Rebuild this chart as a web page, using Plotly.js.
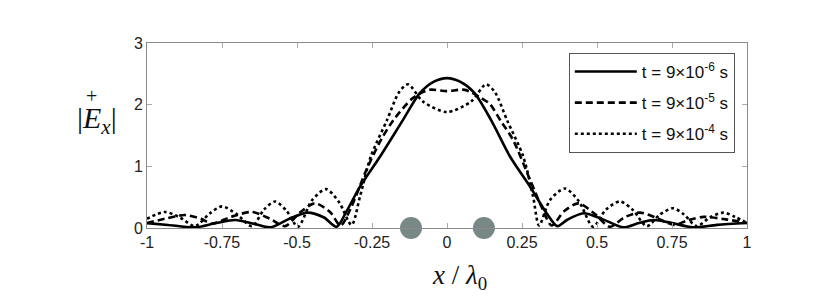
<!DOCTYPE html>
<html>
<head>
<meta charset="utf-8">
<script src="https://cdn.plot.ly/plotly-3.0.1.min.js"></script>
<style>html,body{margin:0;padding:0;background:#fff;}#chart{width:830px;height:305px;}</style>
</head>
<body>
<div id="chart"></div>
<script>
// Series names
var seriesNames = ['t = 9\u00d710<sup>-6</sup> s', 't = 9\u00d710<sup>-5</sup> s', 't = 9\u00d710<sup>-4</sup> s'];

// t = 9e-6 s (solid)
var solidX = [-1, -0.93, -0.84, -0.77, -0.705, -0.645, -0.588, -0.53, -0.465, -0.41, -0.368, -0.335, -0.29, -0.223, -0.147, -0.09, -0.045, 0, 0.045, 0.09, 0.147, 0.21, 0.277, 0.332, 0.368, 0.40, 0.455, 0.52, 0.588, 0.64, 0.69, 0.75, 0.82, 0.9, 1];
var solidY = [0.08, 0.05, 0.01, 0.08, 0.13, 0.07, 0.01, 0.14, 0.25, 0.17, 0.02, 0.27, 0.67, 1.16, 1.75, 2.19, 2.37, 2.43, 2.37, 2.2, 1.75, 1.16, 0.67, 0.24, 0.03, 0.13, 0.24, 0.14, 0.01, 0.08, 0.13, 0.08, 0.01, 0.05, 0.08];

// t = 9e-5 s (dashed)
var dashedX = [-1, -0.94, -0.873, -0.82, -0.784, -0.72, -0.65, -0.59, -0.54, -0.49, -0.44, -0.39, -0.355, -0.32, -0.268, -0.22, -0.18, -0.113, -0.06, 0, 0.06, 0.113, 0.143, 0.18, 0.22, 0.277, 0.32, 0.349, 0.39, 0.438, 0.49, 0.543, 0.59, 0.643, 0.7, 0.757, 0.8, 0.855, 0.93, 1];
var dashedY = [0.08, 0.15, 0.21, 0.15, 0.07, 0.18, 0.26, 0.15, 0.03, 0.25, 0.40, 0.26, 0.04, 0.33, 0.95, 1.43, 1.74, 2.11, 2.24, 2.22, 2.24, 2.11, 2.01, 1.73, 1.43, 0.78, 0.29, 0.04, 0.27, 0.40, 0.24, 0.02, 0.17, 0.25, 0.16, 0.05, 0.12, 0.18, 0.14, 0.08];

// t = 9e-4 s (dotted)
var dottedX = [-1, -0.94, -0.89, -0.84, -0.79, -0.75, -0.70, -0.65, -0.61, -0.573, -0.535, -0.497, -0.45, -0.403, -0.36, -0.318, -0.29, -0.254, -0.2, -0.16, -0.13, -0.08, 0, 0.08, 0.13, 0.16, 0.2, 0.254, 0.287, 0.307, 0.343, 0.393, 0.44, 0.487, 0.53, 0.577, 0.62, 0.666, 0.71, 0.754, 0.79, 0.832, 0.876, 0.921, 0.96, 1];
var dottedY = [0.15, 0.26, 0.17, 0.03, 0.24, 0.35, 0.22, 0.03, 0.30, 0.43, 0.28, 0.02, 0.45, 0.63, 0.42, 0.05, 0.51, 1.16, 1.75, 2.2, 2.33, 2.05, 1.88, 2.05, 2.33, 2.2, 1.75, 1.16, 0.51, 0.04, 0.45, 0.64, 0.43, 0.02, 0.30, 0.43, 0.29, 0.03, 0.22, 0.32, 0.22, 0.03, 0.17, 0.25, 0.18, 0.08];

// particle positions on the axis
var particleX = [-0.12, 0.123];
var particleY = [0, 0];

// ticks
var xTickVals = [-1, -0.75, -0.5, -0.25, 0, 0.25, 0.5, 0.75, 1];
var xTickText = ['-1', '-0.75', '-0.5', '-0.25', '0', '0.25', '0.5', '0.75', '1'];
var yTickVals = [0, 1, 2, 3];
var yTickText = ['0', '1', '2', '3'];

var lineW = 2.6;
var traces = [
  {x: solidX, y: solidY, name: seriesNames[0], legendgroup: 'a', mode: 'lines',
   line: {color: '#000', width: lineW, dash: 'solid', shape: 'spline', smoothing: 0.8}},
  {x: dashedX, y: dashedY, name: seriesNames[1], legendgroup: 'b', mode: 'lines',
   line: {color: '#000', width: lineW, dash: '7px,4px', shape: 'spline', smoothing: 0.8}},
  {x: dottedX, y: dottedY, name: seriesNames[2], legendgroup: 'c', mode: 'lines',
   line: {color: '#000', width: lineW, dash: 'dot', shape: 'spline', smoothing: 0.8}},
  {x: particleX, y: particleY, mode: 'markers', showlegend: false, cliponaxis: false,
   marker: {color: '#778886', size: 22, symbol: 'circle', line: {width: 0}}}
];

var tickFont = {family: 'Liberation Sans, Arial, sans-serif', size: 16, color: '#222'};
var axisCommon = {
  showline: true, linecolor: '#8a8a8a', linewidth: 1, mirror: 'ticks',
  ticks: 'inside', ticklen: 5, tickcolor: '#aaa', tickwidth: 1,
  showgrid: false, zeroline: false, tickfont: tickFont, tickmode: 'array'
};

var layout = {
  width: 830, height: 305, autosize: false,
  margin: {l: 147, r: 83, t: 43, b: 77, pad: 0},
  paper_bgcolor: '#fff', plot_bgcolor: '#fff',
  showlegend: true,
  xaxis: Object.assign({}, axisCommon, {range: [-1, 1], tickvals: xTickVals, ticktext: xTickText}),
  yaxis: Object.assign({}, axisCommon, {range: [0, 3], tickvals: yTickVals, ticktext: yTickText}),
  legend: {
    x: 0.703, y: 0.946, xanchor: 'left', yanchor: 'top',
    bgcolor: '#fff', bordercolor: '#555', borderwidth: 1,
    font: {family: 'Liberation Sans, Arial, sans-serif', size: 17, color: '#111'},
    tracegroupgap: 6, itemwidth: 62
  },
  annotations: [
    {xref: 'paper', yref: 'paper', x: -0.0833, y: 0.585, xanchor: 'center', yanchor: 'middle', showarrow: false,
     text: '|<i>E</i><sub><i>x</i></sub>|', font: {family: 'Liberation Serif, DejaVu Serif, serif', size: 30, color: '#111'}},
    {xref: 'paper', yref: 'paper', x: -0.0933, y: 0.712, xanchor: 'center', yanchor: 'middle', showarrow: false,
     text: '+', font: {family: 'Liberation Serif, DejaVu Serif, serif', size: 20, color: '#111'}},
    {xref: 'paper', yref: 'paper', x: 0.52, y: -0.265, xanchor: 'center', yanchor: 'middle', showarrow: false,
     text: '<i>x</i> / <i>\u03bb</i><sub>0</sub>', font: {family: 'Liberation Serif, DejaVu Serif, serif', size: 27, color: '#111'}}
  ]
};

Plotly.newPlot('chart', traces, layout, {staticPlot: true, displayModeBar: false});
</script>
</body>
</html>
